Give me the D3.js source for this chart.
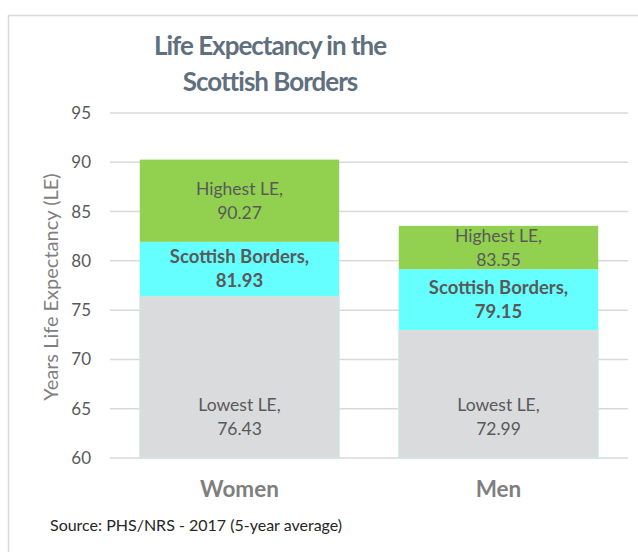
<!DOCTYPE html>
<html>
<head>
<meta charset="utf-8">
<script src="https://cdn.jsdelivr.net/npm/d3@7"></script>
<style>
  body { margin: 0; background: #fff; }
  svg { display: block; font-family: Lato, "Open Sans", sans-serif; }
</style>
</head>
<body>
<div class="chart"></div>
<script>
// data
const groups = ["Women", "Men"];
const lowest = [76.43, 72.99];
const scottishBorders = [81.93, 79.15];
const highest = [90.27, 83.55];
const yTicks = [60, 65, 70, 75, 80, 85, 90, 95];

const W = 638, H = 552;
const margin = { top: 113, right: 10, bottom: 94, left: 110 };

const svg = d3.select(".chart").append("svg")
  .attr("width", W)
  .attr("height", H);

// chart area frame (only top + left edges visible in the picture)
svg.append("path")
  .attr("d", "M8.5," + H + "V15.5H" + W)
  .attr("fill", "none")
  .attr("stroke", "#d9d9d9")
  .attr("stroke-width", 1.5);

const x = d3.scaleBand()
  .domain(groups)
  .range([margin.left, W - margin.right])
  .paddingInner(0.23)
  .paddingOuter(0.115);

const y = d3.scaleLinear()
  .domain([60, 95])
  .range([H - margin.bottom, margin.top]);

// gridlines
svg.append("g")
  .selectAll("line")
  .data(yTicks)
  .join("line")
  .attr("x1", margin.left)
  .attr("x2", W - margin.right)
  .attr("y1", d => y(d))
  .attr("y2", d => y(d))
  .attr("stroke", "#d9d9d9")
  .attr("stroke-width", 1.5);

// y axis labels
const yAxis = svg.append("g")
  .attr("transform", "translate(" + (margin.left - 19) + ",0)")
  .call(d3.axisLeft(y).tickValues(yTicks).tickSize(0).tickPadding(0));
yAxis.select(".domain").remove();
yAxis.selectAll("text")
  .attr("font-family", "Lato, sans-serif")
  .attr("font-size", 17)
  .attr("fill", "#595959");

// stacked segments
const segs = [];
groups.forEach((g, i) => {
  segs.push({ g, lo: 60, hi: lowest[i], fill: "#dadbdd", name: "Lowest LE,", v: lowest[i], bold: false, kind: "low" });
  segs.push({ g, lo: lowest[i], hi: scottishBorders[i], fill: "#66ffff", name: "Scottish Borders,", v: scottishBorders[i], bold: true, kind: "mid" });
  segs.push({ g, lo: scottishBorders[i], hi: highest[i], fill: "#92d050", name: "Highest LE,", v: highest[i], bold: false, kind: "high" });
});

svg.append("g")
  .selectAll("rect")
  .data(segs)
  .join("rect")
  .attr("x", d => x(d.g))
  .attr("width", x.bandwidth())
  .attr("y", d => y(d.hi))
  .attr("height", d => y(d.lo) - y(d.hi))
  .attr("fill", d => d.fill)
  .attr("stroke", d => d.kind === "low" ? "#c6ece5" : "none")
  .attr("stroke-width", 1);

// segment labels
const lab = svg.append("g")
  .selectAll("text")
  .data(segs)
  .join("text")
  .attr("text-anchor", "middle")
  .attr("font-size", d => d.bold ? 18.5 : 17.5)
  .attr("font-weight", d => d.bold ? "bold" : "normal")
  .attr("fill", "#595959")
  .attr("transform", d => {
    // grey labels sit low in the bar, others in the middle of the segment
    const cy = d.kind === "low" ? y(64.2) : (y(d.lo) + y(d.hi)) / 2;
    return "translate(" + (x(d.g) + x.bandwidth() / 2) + "," + cy + ")";
  });
lab.append("tspan").attr("x", 0).attr("y", -6).text(d => d.name);
lab.append("tspan").attr("x", 0).attr("y", 18).text(d => d.v.toFixed(2));

// category labels
svg.append("g")
  .selectAll("text")
  .data(groups)
  .join("text")
  .attr("x", d => x(d) + x.bandwidth() / 2)
  .attr("y", 497)
  .attr("text-anchor", "middle")
  .attr("font-size", 22.5)
  .attr("font-weight", "bold")
  .attr("fill", "#7f7f7f")
  .text(d => d);

// y axis title
svg.append("text")
  .attr("transform", "translate(58,287) rotate(-90)")
  .attr("text-anchor", "middle")
  .attr("font-size", 20)
  .attr("fill", "#7f7f7f")
  .text("Years Life Expectancy  (LE)");

// title
const title = svg.append("text")
  .attr("text-anchor", "middle")
  .attr("font-size", 26)
  .attr("font-weight", "bold")
  .attr("letter-spacing", -1)
  .attr("fill", "#5f6f7e");
title.append("tspan").attr("x", 270).attr("y", 55).text("Life Expectancy in the");
title.append("tspan").attr("x", 270).attr("y", 91).text("Scottish Borders");

// source
svg.append("text")
  .attr("x", 50)
  .attr("y", 531)
  .attr("font-size", 16)
  .attr("fill", "#262626")
  .text("Source: PHS/NRS - 2017 (5-year average)");
</script>
</body>
</html>
